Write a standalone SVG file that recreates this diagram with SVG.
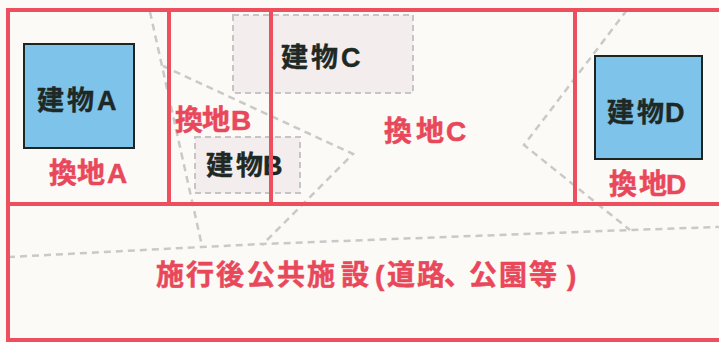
<svg xmlns="http://www.w3.org/2000/svg" width="719" height="342" viewBox="0 0 719 342">
<style>
.lot{fill:none;stroke:#EE4F5F;stroke-width:4}
.bldg{fill:#7EC3EA;stroke:#1B2522;stroke-width:2}
.old{fill:#F3EEED;stroke:#C8C4C4;stroke-width:2;stroke-dasharray:6 4}
.dash{fill:none;stroke:#C9C9C9;stroke-width:2.5;stroke-dasharray:7 5}
.rt{font-family:"Liberation Sans","Noto Sans CJK JP",sans-serif;font-weight:bold;font-size:28px;fill:#E9485B;stroke:#E9485B;stroke-width:0.5}
.bt{font-family:"Liberation Sans","Noto Sans CJK JP",sans-serif;font-weight:bold;font-size:27px;fill:#1E2824;stroke:#1E2824;stroke-width:0.4}
</style>
<rect width="719" height="342" fill="#FBFAF6"/>
<g id="building-C"><rect class="old" x="233" y="15" width="180" height="78"/><text class="bt" x="281 311 341" y="67">建物C</text></g>
<g id="building-B"><rect class="old" x="195" y="137" width="105" height="56"/><text class="bt" x="206 236 263" y="175">建物B</text></g>
<g id="connectors">
<polyline class="dash" points="150,12 202,246"/>
<polyline class="dash" points="163,66 353,154 262,245"/>
<polyline class="dash" points="8,257 202,247 262,244 630,230 719,227"/>
<polyline class="dash" points="627,10 524,145 630,230"/>
</g>
<g id="lot-A"><rect class="lot" x="8" y="10" width="161" height="194"/><text class="rt" x="49 77 107" y="183">換地A</text></g>
<g id="lot-B"><rect class="lot" x="169" y="10" width="102" height="194"/><text class="rt" x="175 202 231" y="130">換地B</text></g>
<g id="lot-C"><rect class="lot" x="271" y="10" width="304" height="194"/><text class="rt" x="384 416 446" y="141">換地C</text></g>
<g id="lot-D"><rect class="lot" x="575" y="10" width="160" height="194"/><text class="rt" x="609 639 666" y="194">換地D</text></g>
<g id="public"><rect class="lot" x="8" y="204" width="727" height="136"/><text class="rt" x="156 186 216 247 277 307 341 375 387 417 444 469 499 529 567" y="285">施行後公共施設(道路、公園等)</text></g>
<g id="building-A"><rect class="bldg" x="24" y="44" width="110" height="104"/><text class="bt" x="37 67 97" y="110">建物A</text></g>
<g id="building-D"><rect class="bldg" x="595" y="56" width="107" height="103"/><text class="bt" x="607 637 665" y="122">建物D</text></g>
</svg>
